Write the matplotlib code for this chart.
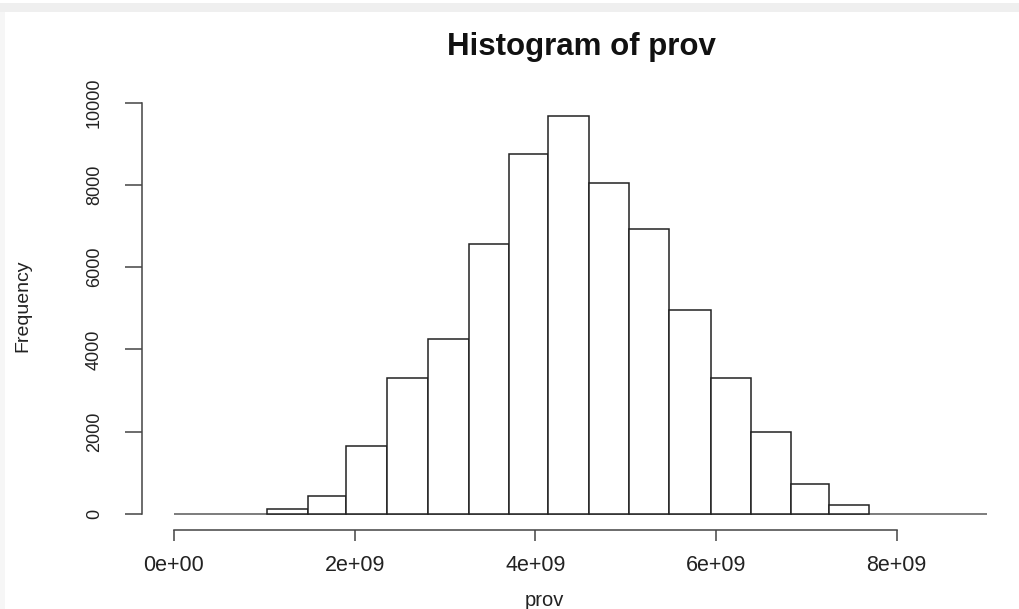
"""Histogram of prov, redrawn in the style of an R base-graphics hist()."""

import matplotlib

matplotlib.use("Agg")
import matplotlib.pyplot as plt
from matplotlib.patches import Rectangle

plt.rcParams["font.family"] = ["Liberation Sans", "DejaVu Sans"]

# bin edges (in units of 1e9) and counts
BIN_EDGES = [1.035, 1.48, 1.90, 2.355, 2.815, 3.265, 3.708, 4.14, 4.595,
             5.037, 5.48, 5.94, 6.385, 6.835, 7.255, 7.70]
COUNTS = [125, 428, 1645, 3310, 4250, 6562, 8760, 9667, 8046, 6927,
          4964, 3301, 2003, 723, 227]
BASELINE = (0.0, 9.0)  # span of the empty (zero-count) bins, 1e9 units

X_TICKS = [0, 2, 4, 6, 8]
X_TICK_LABELS = ["0e+00", "2e+09", "4e+09", "6e+09", "8e+09"]
Y_TICKS = [0, 2000, 4000, 6000, 8000, 10000]

W, H = 1020, 609
fig = plt.figure(figsize=(W / 100, H / 100), dpi=100)
fig.patches.append(Rectangle((0, 1 - 12 / H), 1, 9 / H, transform=fig.transFigure,
                             facecolor="#efefef", edgecolor="none"))
fig.patches.append(Rectangle((0, 0), 5 / W, 1 - 12 / H, transform=fig.transFigure,
                             facecolor="#f6f6f6", edgecolor="none"))

ax = fig.add_axes([141.7 / W, 1 - 530 / H, (1014 - 141.7) / W, (530 - 100.4) / H])
ax.patch.set_alpha(0)

edges = [e * 1e9 for e in BIN_EDGES]
widths = [b - a for a, b in zip(edges[:-1], edges[1:])]
ax.hlines(0, BASELINE[0] * 1e9, BASELINE[1] * 1e9, color="#666666", lw=1.2)
ax.bar(edges[:-1], COUNTS, width=widths, align="edge", facecolor="white",
       edgecolor="#222222", linewidth=1.1, zorder=3)

ax.set_xlim(-0.3575e9, 9.3e9)
ax.set_ylim(-389, 10056)

for side in ("top", "right"):
    ax.spines[side].set_visible(False)
ax.spines["left"].set_bounds(0, 10000)
ax.spines["bottom"].set_bounds(0, 8e9)
for side in ("left", "bottom"):
    ax.spines[side].set_color("#444444")
    ax.spines[side].set_linewidth(1.1)

ax.set_xticks([t * 1e9 for t in X_TICKS])
ax.set_xticklabels(X_TICK_LABELS)
ax.set_yticks(Y_TICKS)
ax.set_yticklabels([str(t) for t in Y_TICKS], rotation=90, va="center")
ax.tick_params(axis="x", length=8, width=1.1, color="#444444", pad=10,
               labelsize=15.5, labelcolor="#222222")
ax.tick_params(axis="y", length=12, width=1.1, color="#444444", pad=16,
               labelsize=13, labelcolor="#222222")

fig.text(23 / W, 1 - 306 / H, "Frequency", rotation=90, ha="center", va="center",
         fontsize=14, color="#222222")
fig.text(544 / W, 1 - 601 / H, "prov", ha="center", va="center",
         fontsize=14.5, color="#222222")
fig.text(581 / W, 1 - 47 / H, "Histogram of prov", ha="center", va="center",
         fontsize=22.5, fontweight="bold", color="#111111")

fig.savefig("out.png", dpi=100)
plt.close(fig)
